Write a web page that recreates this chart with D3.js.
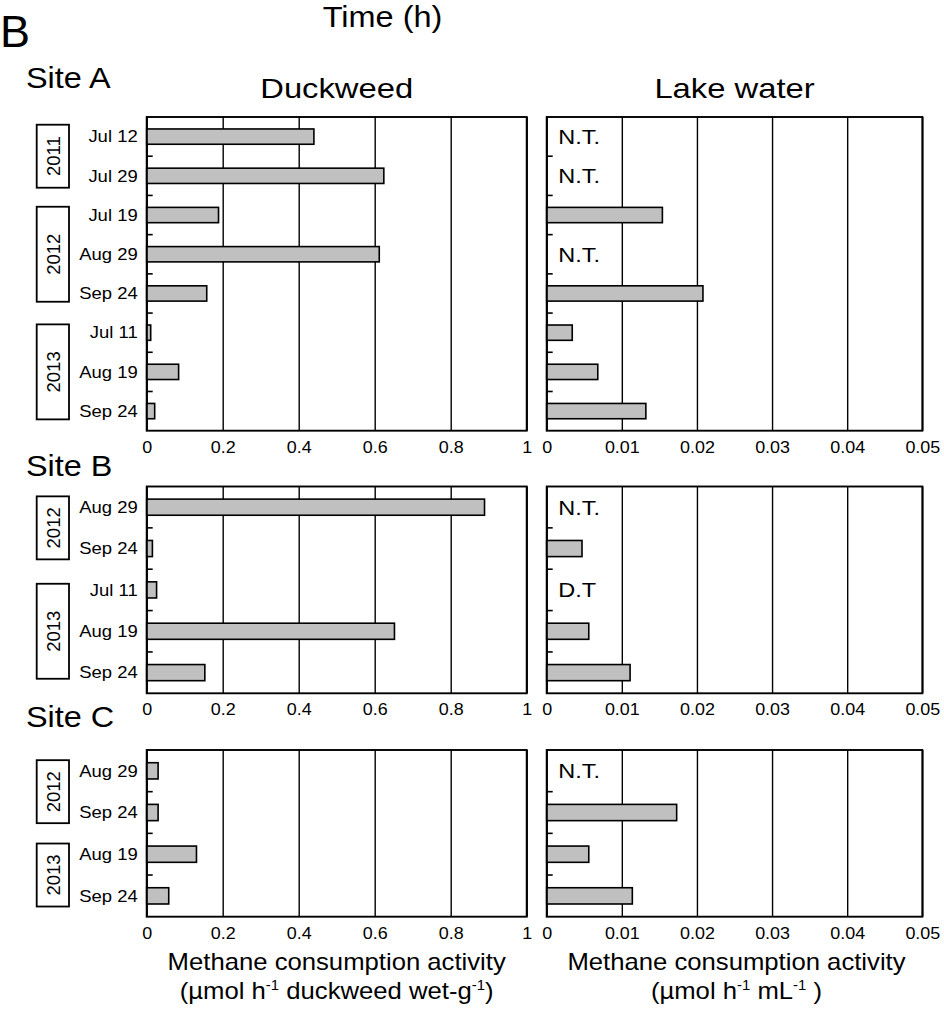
<!DOCTYPE html>
<html>
<head>
<meta charset="utf-8">
<script src="https://cdn.jsdelivr.net/npm/d3@7"></script>
<style>
  html, body { margin: 0; padding: 0; background: #fff; }
  svg { display: block; font-family: "Liberation Sans", Arial, Helvetica, sans-serif; }
</style>
</head>
<body>
<svg id="chart" width="944" height="1009"></svg>
<script>
// ---- Data ---------------------------------------------------------------
const siteNames = ["Site A", "Site B", "Site C"];

// Site A
const datesA = ["Jul 12", "Jul 29", "Jul 19", "Aug 29", "Sep 24", "Jul 11", "Aug 19", "Sep 24"];
const yearsA = ["2011", "2012", "2013"];
const yearCountsA = [2, 3, 3];
const duckweedA = [0.44, 0.624, 0.189, 0.612, 0.158, 0.0105, 0.084, 0.021];
const lakeA = [null, null, 0.0154, null, 0.0208, 0.0034, 0.0068, 0.0132];
const lakeNoteA = ["N.T.", "N.T.", null, "N.T.", null, null, null, null];

// Site B
const datesB = ["Aug 29", "Sep 24", "Jul 11", "Aug 19", "Sep 24"];
const yearsB = ["2012", "2013"];
const yearCountsB = [2, 3];
const duckweedB = [0.889, 0.015, 0.026, 0.652, 0.153];
const lakeB = [null, 0.0047, null, 0.0056, 0.0111];
const lakeNoteB = ["N.T.", null, "D.T", null, null];

// Site C
const datesC = ["Aug 29", "Sep 24", "Aug 19", "Sep 24"];
const yearsC = ["2012", "2013"];
const yearCountsC = [2, 2];
const duckweedC = [0.03, 0.03, 0.131, 0.058];
const lakeC = [null, 0.0173, 0.0056, 0.0114];
const lakeNoteC = ["N.T.", null, null, null];

// Axis domains and ticks
const duckweedDomain = [0, 1];
const duckweedTicks = [0, 0.2, 0.4, 0.6, 0.8, 1];
const lakeDomain = [0, 0.05];
const lakeTicks = [0, 0.01, 0.02, 0.03, 0.04, 0.05];

// ---- Layout ---------------------------------------------------------------
const svg = d3.select("#chart");
const font = "'Liberation Sans', Arial, Helvetica, sans-serif";

const leftRange = [146.7, 526.7];
const rightRange = [546.7, 922.3];
const sitePanels = [
  { top: 117, bottom: 430.7, labelY: 88,
    dates: datesA, years: yearsA, counts: yearCountsA, duck: duckweedA, lake: lakeA, notes: lakeNoteA },
  { top: 486.5, bottom: 693.3, labelY: 476,
    dates: datesB, years: yearsB, counts: yearCountsB, duck: duckweedB, lake: lakeB, notes: lakeNoteB },
  { top: 750, bottom: 916.7, labelY: 727,
    dates: datesC, years: yearsC, counts: yearCountsC, duck: duckweedC, lake: lakeC, notes: lakeNoteC }
];

// text drawn with a slight horizontal stretch
function label(g, str, x, y, size, anchor, sx) {
  return g.append("text")
    .attr("transform", `translate(${x},${y}) scale(${sx || 1},1)`)
    .attr("text-anchor", anchor)
    .attr("font-size", size)
    .attr("fill", "#000")
    .text(str);
}

// headings
label(svg, "B", 0, 47, 45, "start", 1.0);
label(svg, "Time (h)", 382.5, 27, 29, "middle", 1.12);
label(svg, "Duckweed", (leftRange[0] + leftRange[1]) / 2, 98, 28, "middle", 1.17);
label(svg, "Lake water", (rightRange[0] + rightRange[1]) / 2, 98, 28, "middle", 1.17);

function drawPanel(g, xRange, domain, ticks, values, notes, y, top, bottom) {
  const x = d3.scaleLinear().domain(domain).range(xRange);
  const h = bottom - top;

  // vertical grid lines + tick labels
  const ax = g.append("g")
    .attr("transform", `translate(0,${bottom})`)
    .call(d3.axisBottom(x).tickValues(ticks).tickSize(-h).tickPadding(7)
      .tickFormat(d3.format("~g")));
  ax.select(".domain").remove();
  ax.selectAll(".tick line").attr("stroke", "#000").attr("stroke-width", 1.4);
  ax.selectAll(".tick text")
    .attr("font-family", font).attr("font-size", 16).attr("fill", "#000")
    .attr("dy", "0.95em")
    .attr("transform", "scale(1.12,1)");

  // bars
  const barH = y.bandwidth() * 0.39;
  const idx = d3.range(values.length);
  g.append("g").selectAll("rect")
    .data(idx.filter(i => values[i] != null))
    .join("rect")
    .attr("x", x(0))
    .attr("y", i => y(i) + y.bandwidth() / 2 - barH / 2)
    .attr("width", i => x(values[i]) - x(0))
    .attr("height", barH)
    .attr("fill", "#c0c0c0")
    .attr("stroke", "#000")
    .attr("stroke-width", 1.6);

  // notes (N.T. = not tested, D.T = below detection)
  if (notes) {
    idx.filter(i => notes[i]).forEach(i => {
      label(g, notes[i], xRange[0] + 11.6, y(i) + y.bandwidth() / 2 + 7.5, 21, "start", 1.12);
    });
  }

  // frame
  g.append("rect")
    .attr("x", xRange[0]).attr("y", top)
    .attr("width", xRange[1] - xRange[0]).attr("height", h)
    .attr("fill", "none").attr("stroke", "#000").attr("stroke-width", 1.9);

  // inner row-separator ticks on the left edge
  g.append("g").selectAll("line")
    .data(idx.slice(1))
    .join("line")
    .attr("x1", xRange[0]).attr("x2", xRange[0] + 6)
    .attr("y1", i => y(i)).attr("y2", i => y(i))
    .attr("stroke", "#000").attr("stroke-width", 1.6);
}

sitePanels.forEach((p, si) => {
  const g = svg.append("g");
  const n = p.dates.length;
  const y = d3.scaleBand().domain(d3.range(n)).range([p.top, p.bottom]).padding(0);

  label(g, siteNames[si], 26, p.labelY, 30, "start", 1.08);

  // date labels
  p.dates.forEach((d, i) => {
    label(g, d, 137.7, y(i) + y.bandwidth() / 2 + 5.8, 15.8, "end", 1.17);
  });

  // year boxes
  let start = 0;
  p.years.forEach((yr, k) => {
    const cnt = p.counts[k];
    const cy = (y(start) + y(start + cnt - 1) + y.bandwidth()) / 2;
    const bh = cnt * 32 - 1;
    g.append("rect")
      .attr("x", 36.7).attr("y", cy - bh / 2)
      .attr("width", 32.3).attr("height", bh)
      .attr("fill", "#fff").attr("stroke", "#000").attr("stroke-width", 1.8);
    g.append("text")
      .attr("transform", `translate(53,${cy}) rotate(-90)`)
      .attr("text-anchor", "middle")
      .attr("dy", "0.36em")
      .attr("font-size", 18.5)
      .text(yr);
    start += cnt;
  });

  drawPanel(g, leftRange, duckweedDomain, duckweedTicks, p.duck, null, y, p.top, p.bottom);
  drawPanel(g, rightRange, lakeDomain, lakeTicks, p.lake, p.notes, y, p.top, p.bottom);
});

// axis titles: unit line uses raised tspans for the exponents
function axisTitle(cx, line2Parts) {
  label(svg, "Methane consumption activity", cx, 970, 24, "middle", 1.07);
  const t = svg.append("text")
    .attr("transform", `translate(${cx},999) scale(1.07,1)`)
    .attr("text-anchor", "middle")
    .attr("font-size", 24);
  let raised = false;
  line2Parts.forEach(([s, sup]) => {
    const ts = t.append("tspan").text(s);
    if (sup) {
      ts.attr("font-size", 14).attr("dy", raised ? 0 : -9);
      raised = true;
    } else {
      ts.attr("dy", raised ? 9 : 0);
      raised = false;
    }
  });
}
axisTitle((leftRange[0] + leftRange[1]) / 2,
  [["(\u00B5mol h", false], ["-1", true], [" duckweed wet-g", false], ["-1", true], [")", false]]);
axisTitle((rightRange[0] + rightRange[1]) / 2 + 2,
  [["(\u00B5mol h", false], ["-1", true], [" mL", false], ["-1", true], [" )", false]]);
</script>
</body>
</html>
